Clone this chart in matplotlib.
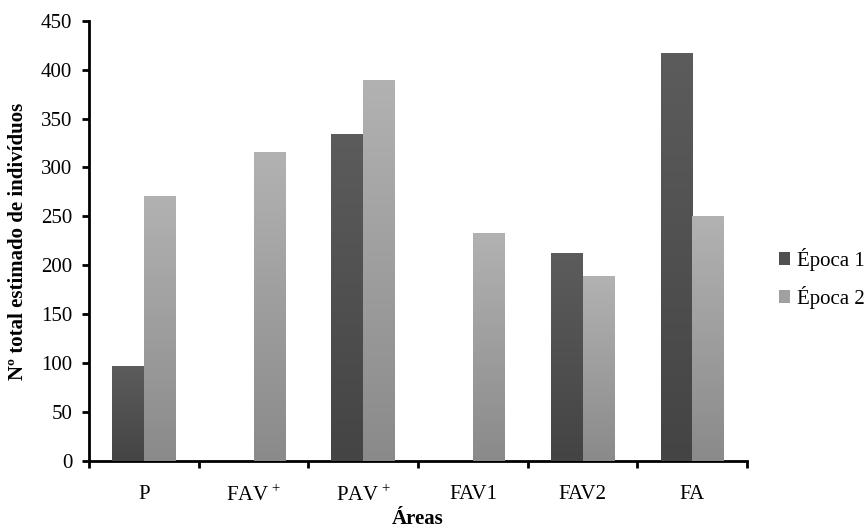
import numpy as np
import matplotlib
matplotlib.use("Agg")
import matplotlib.pyplot as plt
from matplotlib.colors import LinearSegmentedColormap

categories = ["P", "FAV$\\,^{+}$", "PAV$\\,^{+}$", "FAV1", "FAV2", "FA"]
epoca1 = [97, 0, 334, 0, 213, 417]
epoca2 = [271, 316, 389, 233, 189, 250]
series_names = ["Época 1", "Época 2"]

plt.rcParams['font.family'] = ['Liberation Serif', 'DejaVu Serif']
plt.rcParams['mathtext.fontset'] = 'custom'
plt.rcParams['mathtext.rm'] = 'Liberation Serif'

FS = 15
fig = plt.figure(figsize=(8.66, 5.30), dpi=100)
ax = fig.add_axes([0.1028, 0.130, 0.760, 0.831])

x = np.arange(len(categories))
w = 0.29
cmaps = [
    LinearSegmentedColormap.from_list("d", ["#444444", "#5c5c5c"]),
    LinearSegmentedColormap.from_list("l", ["#8a8a8a", "#b2b2b2"]),
]
solid = ["#505050", "#a0a0a0"]
grad = np.linspace(0, 1, 256).reshape(-1, 1)
for i, (vals, name) in enumerate(zip([epoca1, epoca2], series_names)):
    off = (i - 0.5) * w
    bars = ax.bar(x + off, vals, width=w, color=solid[i], label=name, zorder=2)
    for b in bars:
        h = b.get_height()
        if h <= 0:
            continue
        x0 = b.get_x()
        im = ax.imshow(grad, cmap=cmaps[i], aspect='auto', origin='lower',
                       extent=[x0, x0 + b.get_width(), 0, h], zorder=3)
        im.set_clip_path(b)

ax.set_xlim(-0.5, len(categories) - 0.5)
ax.set_ylim(0, 450)
ax.set_yticks(np.arange(0, 451, 50))
ax.set_xticks(x)
ax.set_xticklabels(categories, fontsize=FS)
ax.set_xticks(np.arange(-0.5, len(categories), 1), minor=True)
ax.tick_params(axis='x', which='major', length=0, pad=17)
ax.tick_params(axis='x', which='minor', length=5, width=2, direction='out')
ax.tick_params(axis='y', length=5, width=2, direction='out', labelsize=FS, pad=7)
for s in ['top', 'right']:
    ax.spines[s].set_visible(False)
for s in ['left', 'bottom']:
    ax.spines[s].set_linewidth(2)

ax.set_ylabel("Nº total estimado de indivíduos", fontsize=FS, fontweight='bold', labelpad=9)
ax.set_xlabel("Áreas", fontsize=FS, fontweight='bold', labelpad=2)

leg = ax.legend(loc='center left', bbox_to_anchor=(1.035, 0.415), frameon=False,
                fontsize=FS, handlelength=0.55, handleheight=0.55, handletextpad=0.35,
                labelspacing=0.7, borderaxespad=0)

fig.savefig("out.png", dpi=100)
